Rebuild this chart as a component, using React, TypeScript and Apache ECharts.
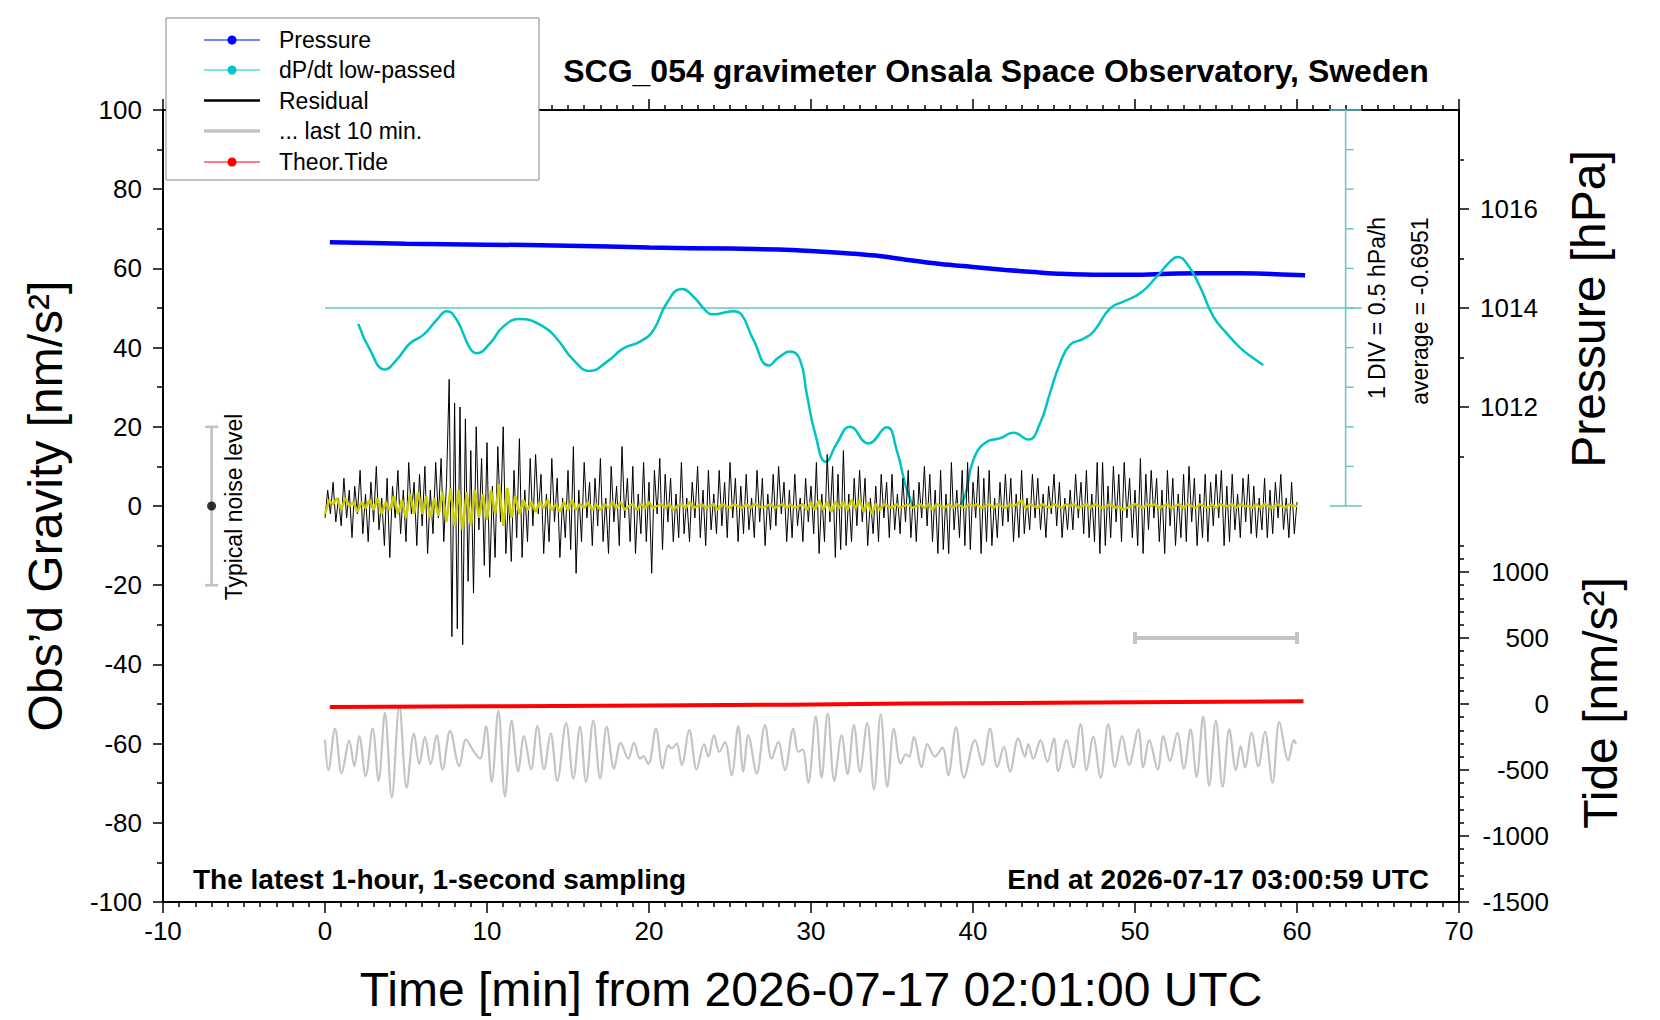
import { useEffect, useRef } from "react";
import * as echarts from "echarts";

const FONT = '"Liberation Sans", Arial, Helvetica, sans-serif';

const TITLE = "SCG_054 gravimeter Onsala Space Observatory, Sweden";
const X_NAME = "Time [min] from 2026-07-17 02:01:00 UTC";
const Y_NAME = "Obs’d Gravity [nm/s²]";
const PRESSURE_NAME = "Pressure [hPa]";
const TIDE_NAME = "Tide [nm/s²]";
const NOTE_LEFT = "The latest 1-hour, 1-second sampling";
const NOTE_RIGHT = "End at 2026-07-17 03:00:59 UTC";
const NOISE_TEXT = "Typical noise level";
const DIV_TEXT = "1 DIV = 0.5 hPa/h";
const AVG_TEXT = "average = -0.6951";

const PRESSURE_LABELS = [1012, 1014, 1016];
const PRESSURE_MINOR = [1011, 1013, 1015, 1017];
const TIDE_LABELS = [-1500, -1000, -500, 0, 500, 1000];
const TIDE_MINOR = [
  -1400, -1300, -1200, -1100, -900, -800, -700, -600, -400, -300, -200, -100,
  100, 200, 300, 400, 600, 700, 800, 900, 1100, 1200,
];
const DPDT_TICKS = [-2.5, -2, -1.5, -1, -0.5, 0, 0.5, 1, 1.5, 2, 2.5];
const DPDT_AXIS_X = 63;
const DPDT_ZERO_LINE = [
  [0, 0],
  [64, 0],
];

// pressure [hPa] vs minutes
const PRESSURE = [
  [0.3, 1015.33], [5, 1015.3], [10, 1015.28], [15, 1015.26], [20, 1015.22],
  [25, 1015.2], [28, 1015.18], [30, 1015.15], [32, 1015.11], [34, 1015.06],
  [36, 1014.97], [38, 1014.89], [40, 1014.83], [42, 1014.77], [44, 1014.72],
  [45.4, 1014.69], [48, 1014.67], [50, 1014.67], [52, 1014.69], [54, 1014.7],
  [56.5, 1014.7], [58, 1014.69], [60.5, 1014.66],
];

// dP/dt low-passed [hPa/h]
const DPDT = [
  [2.06, -0.2], [2.78, -0.53], [3.7, -0.775], [4.42, -0.655], [5.25, -0.445],
  [6.07, -0.34], [6.9, -0.15], [7.51, -0.04], [8.13, -0.15], [8.95, -0.51],
  [9.36, -0.57], [10.19, -0.445], [11.0, -0.235], [12.04, -0.14], [13.48, -0.235],
  [14.3, -0.385], [15.33, -0.655], [16.36, -0.795], [17.39, -0.68], [18.42, -0.51],
  [19.44, -0.425], [20.27, -0.28], [21.09, 0.06], [22.02, 0.24], [22.73, 0.145],
  [23.56, -0.045], [23.97, -0.08], [25.2, -0.04], [25.62, -0.065], [26.44, -0.4],
  [27.4, -0.725], [28.0, -0.625], [28.7, -0.55], [29.32, -0.655], [29.73, -1.075],
  [30.25, -1.58], [30.93, -1.94], [31.59, -1.71], [32.41, -1.5], [33.54, -1.71],
  [34.67, -1.505], [35.29, -1.795], [36.11, -2.405], [37.7, -3.0], [39.4, -2.425],
  [40.02, -1.92], [40.85, -1.69], [41.67, -1.645], [42.49, -1.575], [43.41, -1.66],
  [44.14, -1.455], [44.75, -1.075], [45.37, -0.7], [45.99, -0.465], [46.81, -0.39],
  [47.43, -0.3], [48.46, -0.005], [49.28, 0.08], [50.31, 0.185], [51.34, 0.395],
  [52.16, 0.585], [52.62, 0.645], [53.19, 0.565], [54.01, 0.27], [54.84, -0.11],
  [55.66, -0.32], [56.48, -0.5], [57.2, -0.62], [57.92, -0.72],
];

// theoretical tide [nm/s^2]
const TIDE = [
  [0.3, -23], [10, -17], [20, -11], [28.7, -5], [36, 3], [44.8, 10], [52.6, 16], [60.4, 20],
];

// residual [nm/s^2], one value every 10 s
const RESID_STEP = 1 / 6;
const RESIDUAL = [
  -3, 4, -2, 6, -4, 2, -5, 7, -3, 4, -8, 5, -2, 9, -7, 3, -9, 6,
  -4, 10, -6, 2, -10, 7, -13, 5, -3, 9, -7, 4, -9, 11, -2, 6, -10, 8,
  -5, 10, -12, 4, -7, 11, -3, 12, -9, 6, 32, -33, 26, -31, 25, -35, 22, -19,
  14, -22, 20, -6, 12, -15, 16, -18, 5, -13, 15, -4, 20, -12, 3, -14, 9, -8,
  17, -13, 4, -9, 12, -5, 13, -2, 8, -12, 3, -9, 12, -4, 7, -13, 2, -8,
  9, -11, 15, -17, 4, -9, 11, -3, 6, -10, 7, -5, 12, -9, 2, -12, 10, -4,
  5, -10, 15, -3, 7, -9, 10, -12, 3, -7, 11, -9, 6, -17, 9, -2, 12, -11,
  8, -4, 7, -9, 3, -8, 11, -7, 2, -9, 6, -3, 10, -8, 4, -10, 9, -6,
  3, -7, 9, -5, 6, -8, 11, -3, 7, -9, 5, -7, 8, -6, 2, -8, 9, -4,
  7, -10, 3, -6, 8, -5, 10, -2, 6, -9, 4, -8, 8, -5, 2, -9, 7, -4,
  5, -7, 11, -12, 3, -9, 13, -4, 10, -13, 8, -11, 14, -10, 3, -9, 7, -5,
  9, -4, 7, -10, 2, -7, 5, -9, 8, -3, 6, -8, 8, -6, 3, -7, 7, -4,
  9, -8, 4, -9, 6, -3, 10, -5, 8, -9, 4, -12, 9, -11, 3, -12, 11, -6,
  4, -8, 9, -10, 11, -11, 6, -3, 10, -12, 7, -9, 9, -10, 2, -8, 6, -5,
  8, -4, 7, -9, 3, -8, 9, -7, 2, -6, 8, -3, 7, -6, 3, -8, 5, -2,
  8, -5, 6, -8, 2, -6, 4, -6, 8, -3, 6, -7, 9, -8, 3, -9, 11, -12,
  11, -10, 5, -8, 10, -4, 8, -9, 11, -3, 7, -8, 4, -10, 12, -12, 8, -6,
  9, -3, 7, -9, 4, -12, 9, -5, 7, -10, 3, -8, 8, -9, 10, -4, 7, -10,
  3, -8, 8, -9, 6, -5, 8, -3, 9, -10, 5, -9, 8, -6, 3, -8, 7, -4,
  8, -7, 5, -8, 2, -6, 7, -8, 4, -7, 6, -3, 8, -6, 2, -8, 6, -7,
  1,
];

// low-passed residual, one value every 15 s
const SMOOTH_STEP = 0.25;
const SMOOTHED = [
  -2, 1.5, 0.5, 2, -1, 2, 0, 1, -1.5, 1, -0.5, 1.5, -1, 2, -2, 1,
  -1, 2.5, -2, 1.5, -3, 3, -2, 3.5, -2, 2.5, -3, 2, -2.5, 3.5, -4, 4.5,
  -5, 4, -6, 3.5, -5, 4, -3, 3, -3.5, 4, -2, 5.5, -5, 4.5, -3, 2.5,
  -2, 1.5, -1, 1, -1.5, 1, -0.5, 1.5, -1, 0.5, -1.5, 1, -1, 1.5, -1, 0.5,
  -0.5, 1, -1, 0.5, -1, 0.5, -0.5, 1, -0.5, 1, -1, 0, 0.5, -1, 0.5, -0.5,
  1, -0.5, 0, 0.5, -0.5, 0.5, -1, 0, 0.5, -0.5, 1, -0.5, 0, 0.5, -0.5, 0,
  0.5, -1, 0.5, 0, -0.5, 0.5, 0, -0.5, 0.5, -0.5, 0.5, 0, -0.5, 0, 0.5, -0.5,
  0, 0.5, -0.5, 0.5, -0.5, 0, 0.5, -1, 1, -1, 1.5, -1, 1, -1.5, 1, -0.5,
  1, -1, 1.5, -0.5, 1.5, -1.5, 1, -2, 0.5, -1, 0.5, 0, -0.5, 0.5, -0.5, 0,
  0.5, -0.5, 0, 0.5, -0.5, 0.5, -1, 0.5, 0, -0.5, 0.5, -0.5, 0.5, 0, -0.5, 0.5,
  0, 0.5, -0.5, 0, 0.5, -0.5, 0.5, 0, -0.5, 0.5, 0, 0.5, 1.5, -0.5, 0.5, 0,
  -0.5, 0.5, 0, -0.5, 0.5, 0, -0.5, 0.5, 0, 0.5, -0.5, 0, 0.5, -0.5, 0.5, 0,
  -0.5, 0, 0.5, -0.5, 0, -1, -0.5, 0, 0.5, 0, -0.5, 0.5, 0, 0.5, -0.5, 0,
  0.5, -0.5, 0, 0.5, -0.5, 0.5, 0, -0.5, 0.5, 0, -0.5, 0.5, -0.5, 0.5, 0, 0,
  0.5, -0.5, 0.5, 0, 0, -0.5, 0.5, -0.5, 0.5, 0, -0.5, 0.5, 0, -0.5, 0.5, 0,
  0,
];

// last 10 minutes of residual, stretched over 0-60 and shifted to -60
const LAST10 = [
  [0.0, -59.0], [0.21, -66.7], [0.62, -56.2], [1.03, -67.5], [1.5, -59.3],
  [1.81, -65.7], [2.12, -58.1], [2.51, -68.2], [2.94, -56.2], [3.31, -69.4],
  [3.7, -52.2], [4.12, -73.6], [4.59, -50.5], [5.04, -71.1], [5.49, -57.4],
  [5.82, -65.2], [6.17, -58.3], [6.52, -65.2], [6.89, -57.9], [7.26, -66.5],
  [7.72, -56.8], [8.29, -65.7], [8.7, -59.0], [9.16, -61.8], [9.57, -63.8],
  [9.94, -55.6], [10.29, -69.7], [10.7, -51.7], [11.11, -73.4], [11.52, -54.2],
  [11.93, -67.1], [12.28, -58.1], [12.72, -66.5], [13.11, -55.6], [13.52, -66.5],
  [13.93, -57.4], [14.34, -69.4], [14.88, -54.8], [15.33, -68.8], [15.74, -55.8],
  [16.11, -69.7], [16.56, -54.2], [16.98, -68.8], [17.39, -55.8], [17.84, -66.3],
  [18.25, -59.8], [18.72, -63.8], [19.07, -59.8], [19.45, -63.8], [19.65, -63.2],
  [19.96, -65.2], [20.43, -56.2], [20.84, -66.3], [21.19, -60.4], [21.4, -61.2],
  [21.71, -60.0], [22.02, -65.4], [22.49, -56.6], [22.94, -66.5], [23.4, -60.1],
  [23.66, -63.3], [24.01, -57.9], [24.34, -62.1], [24.69, -59.6], [25.1, -68.0],
  [25.51, -55.6], [25.82, -67.1], [26.13, -57.9], [26.65, -67.5], [27.16, -55.3],
  [27.57, -63.8], [27.98, -59.6], [28.39, -66.7], [28.91, -56.2], [29.21, -62.1],
  [29.48, -61.5], [29.83, -69.9], [30.3, -53.1], [30.65, -68.6], [31.03, -52.4],
  [31.44, -69.4], [31.89, -57.9], [32.26, -67.7], [32.65, -55.3], [33.02, -67.1],
  [33.47, -54.8], [33.89, -71.6], [34.3, -52.6], [34.71, -70.9], [35.12, -56.2],
  [35.53, -65.0], [35.86, -62.7], [36.07, -63.3], [36.35, -58.3], [36.83, -65.9],
  [37.18, -60.1], [37.65, -63.3], [38.12, -61.0], [38.47, -68.0], [38.95, -55.9],
  [39.44, -68.6], [40.12, -59.1], [40.59, -65.4], [41.05, -56.2], [41.5, -65.9],
  [41.91, -60.8], [42.28, -67.1], [42.79, -58.7], [43.21, -63.3], [43.41, -60.1],
  [43.72, -63.8], [44.17, -59.1], [44.59, -64.6], [45.0, -58.7], [45.26, -66.9],
  [45.78, -59.1], [46.19, -66.0], [46.64, -55.1], [47.01, -66.7], [47.42, -58.3],
  [47.88, -68.6], [48.35, -55.1], [48.76, -65.9], [49.21, -58.1], [49.63, -65.4],
  [50.2, -56.4], [50.51, -66.0], [50.88, -59.1], [51.4, -66.5], [51.75, -58.1],
  [52.16, -64.4], [52.61, -57.3], [53.02, -66.3], [53.43, -56.4], [53.8, -68.4],
  [54.21, -53.2], [54.58, -70.7], [54.99, -54.2], [55.41, -70.9], [55.82, -56.4],
  [56.23, -66.7], [56.52, -60.6], [56.79, -66.0], [57.2, -57.3], [57.61, -65.7],
  [58.02, -57.0], [58.49, -69.9], [58.91, -54.5], [59.46, -64.2], [59.81, -59.1],
  [59.94, -60.1],
];

// typical noise level bar: [minute, low, high]
const NOISE_BAR = [[-7, -20, 20]];
// time span of the last 10 minutes on the tide axis: [from, to, level]
const LAST10_SPAN = [[50, 60, 500]];

const LEGEND_ITEMS = [
  { label: "Pressure", color: "#0000ff", width: 1, dot: true },
  { label: "dP/dt low-passed", color: "#00c8c8", width: 1, dot: true },
  { label: "Residual", color: "#000000", width: 2.5, dot: false },
  { label: "... last 10 min.", color: "#c4c4c4", width: 3.5, dot: false },
  { label: "Theor.Tide", color: "#ff0000", width: 1, dot: true },
];

const CYAN = "#00c4c4";
const REF_CYAN = "#66c4c4";
const GRAY = "#c4c4c4";
const YELLOW = "#cccc00";

const tickStyle = { color: "#000", width: 1.5 };
const labelStyle = { color: "#000", fontSize: 26, fontFamily: FONT };
const frameLine = { show: true, onZero: false, lineStyle: { color: "#000", width: 2 } };
const noLine = { show: false, onZero: false };

const App = () => {
  const ref = useRef<HTMLDivElement | null>(null);

  useEffect(() => {
    if (!ref.current) return;
    const chart = echarts.init(ref.current, null, { renderer: "svg" });

    const legendRows = [40, 70, 100.5, 131, 162];
    const legendEls: any[] = [
      {
        type: "rect",
        shape: { x: 166, y: 18, width: 373, height: 162 },
        style: { fill: "#fff", stroke: "#888", lineWidth: 1 },
        z: 100,
      },
    ];
    LEGEND_ITEMS.forEach((it, i) => {
      const y = legendRows[i];
      legendEls.push({
        type: "line",
        shape: { x1: 204, y1: y, x2: 260, y2: y },
        style: { stroke: it.color, lineWidth: it.width },
        z: 101,
      });
      if (it.dot) {
        legendEls.push({
          type: "circle",
          shape: { cx: 232, cy: y, r: 4.5 },
          style: { fill: it.color },
          z: 102,
        });
      }
      legendEls.push({
        type: "text",
        x: 279,
        y,
        style: {
          text: it.label,
          fill: "#000",
          font: `23px ${FONT}`,
          align: "left",
          verticalAlign: "middle",
          textAlign: "left",
          textVerticalAlign: "middle",
        },
        z: 102,
      });
    });

    const textEl = (
      text: string,
      x: number,
      y: number,
      size: number,
      opts: { bold?: boolean; rotate?: boolean; align?: string } = {},
    ) => ({
      type: "text",
      x,
      y,
      rotation: opts.rotate ? Math.PI / 2 : 0,
      style: {
        text,
        fill: "#000",
        font: `${opts.bold ? "bold " : ""}${size}px ${FONT}`,
        align: opts.align || "center",
        verticalAlign: "middle",
        textAlign: opts.align || "center",
        textVerticalAlign: "middle",
      },
      z: 50,
    });

    const renderDpdtTick = (_p: any, api: any) => {
      const v = api.value(1);
      const p = api.coord([api.value(0), v]);
      const isEnd = v === DPDT_TICKS[0] || v === DPDT_TICKS[DPDT_TICKS.length - 1];
      return {
        type: "line",
        shape: { x1: isEnd ? p[0] - 16 : p[0], y1: p[1], x2: p[0] + (isEnd ? 16 : 8), y2: p[1] },
        style: { stroke: REF_CYAN, lineWidth: 1.5 },
      };
    };

    const renderNoiseBar = (_p: any, api: any) => {
      const lo = api.coord([api.value(0), api.value(1)]);
      const hi = api.coord([api.value(0), api.value(2)]);
      const st = { stroke: "#c0c0c0", lineWidth: 2.5 };
      return {
        type: "group",
        children: [
          { type: "line", shape: { x1: lo[0], y1: lo[1], x2: hi[0], y2: hi[1] }, style: st },
          { type: "line", shape: { x1: lo[0] - 6.5, y1: lo[1], x2: lo[0] + 6.5, y2: lo[1] }, style: st },
          { type: "line", shape: { x1: hi[0] - 6.5, y1: hi[1], x2: hi[0] + 6.5, y2: hi[1] }, style: st },
        ],
      };
    };

    const renderSpan = (_p: any, api: any) => {
      const a = api.coord([api.value(0), api.value(2)]);
      const b = api.coord([api.value(1), api.value(2)]);
      const st = { stroke: "#c4c4c4", lineWidth: 4 };
      return {
        type: "group",
        children: [
          { type: "line", shape: { x1: a[0], y1: a[1], x2: b[0], y2: b[1] }, style: st },
          { type: "line", shape: { x1: a[0], y1: a[1] - 6, x2: a[0], y2: a[1] + 6 }, style: st },
          { type: "line", shape: { x1: b[0], y1: b[1] - 6, x2: b[0], y2: b[1] + 6 }, style: st },
        ],
      };
    };

    const lineBase = { type: "line", showSymbol: false, silent: true };
    const main = { xAxisIndex: 0 };
    const upper = { xAxisIndex: 2, yAxisIndex: 6 };

    chart.setOption({
      animation: false,
      backgroundColor: "#fff",
      textStyle: { fontFamily: FONT },
      grid: [
        { left: 163, right: 201, top: 110, bottom: 118, containLabel: false, outerBoundsMode: "none" },
        // upper half, where the dP/dt scale lives
        { left: 163, right: 201, top: 110, bottom: 514, containLabel: false, outerBoundsMode: "none" },
      ],
      xAxis: [
        {
          type: "value",
          gridIndex: 0,
          position: "bottom",
          min: -10,
          max: 70,
          interval: 10,
          axisLine: frameLine,
          axisTick: { length: 11, lineStyle: tickStyle },
          minorTick: { show: true, splitNumber: 10, length: 5, lineStyle: tickStyle },
          splitLine: { show: false },
          axisLabel: { ...labelStyle, margin: 16, formatter: (v: number) => String(v) },
          name: X_NAME,
          nameLocation: "middle",
          nameGap: 63,
          nameTextStyle: { fontSize: 48, fontFamily: FONT, color: "#000" },
        },
        {
          type: "value",
          gridIndex: 0,
          position: "top",
          min: -10,
          max: 70,
          interval: 10,
          axisLine: frameLine,
          axisTick: { length: 11, lineStyle: tickStyle },
          minorTick: { show: true, splitNumber: 10, length: 5, lineStyle: tickStyle },
          splitLine: { show: false },
          axisLabel: { show: false },
        },
        {
          type: "value",
          gridIndex: 1,
          show: false,
          min: -10,
          max: 70,
        },
      ],
      yAxis: [
        {
          type: "value",
          gridIndex: 0,
          position: "left",
          min: -100,
          max: 100,
          interval: 20,
          axisLine: frameLine,
          axisTick: { show: true, length: 10, lineStyle: tickStyle },
          minorTick: { show: true, splitNumber: 2, length: 6, lineStyle: tickStyle },
          splitLine: { show: false },
          axisLabel: { ...labelStyle, margin: 21, formatter: (v: number) => String(v) },
          name: Y_NAME,
          nameLocation: "middle",
          nameRotate: 90,
          nameGap: 94,
          nameTextStyle: { fontSize: 48, fontFamily: FONT, color: "#000" },
        },
        {
          type: "value",
          gridIndex: 0,
          position: "right",
          min: 1002,
          max: 1018,
          axisLine: frameLine,
          axisTick: { show: true, length: 10, lineStyle: tickStyle, customValues: PRESSURE_LABELS },
          splitLine: { show: false },
          axisLabel: {
            ...labelStyle,
            margin: 21,
            customValues: PRESSURE_LABELS,
            formatter: (v: number) => String(v),
          },
        },
        {
          type: "value",
          gridIndex: 0,
          position: "right",
          min: 1002,
          max: 1018,
          axisLine: noLine,
          axisTick: { show: true, length: 5, lineStyle: tickStyle, customValues: PRESSURE_MINOR },
          splitLine: { show: false },
          axisLabel: { show: false },
        },
        {
          type: "value",
          gridIndex: 0,
          position: "right",
          min: -1500,
          max: 4500,
          axisLine: noLine,
          axisTick: { show: true, length: 10, lineStyle: tickStyle, customValues: TIDE_LABELS },
          splitLine: { show: false },
          axisLabel: {
            ...labelStyle,
            margin: 90,
            align: "right",
            customValues: TIDE_LABELS,
            formatter: (v: number) => String(v),
          },
        },
        {
          type: "value",
          gridIndex: 0,
          position: "right",
          min: -1500,
          max: 4500,
          axisLine: noLine,
          axisTick: { show: true, length: 5, lineStyle: tickStyle, customValues: TIDE_MINOR },
          splitLine: { show: false },
          axisLabel: { show: false },
        },
        {
          type: "value",
          gridIndex: 0,
          show: false,
          min: -100,
          max: 100,
        },
        {
          type: "value",
          gridIndex: 1,
          show: false,
          min: DPDT_TICKS[0],
          max: DPDT_TICKS[DPDT_TICKS.length - 1],
        },
      ],
      graphic: [
        ...legendEls,
        textEl(TITLE, 996, 71, 32, { bold: true }),
        textEl(NOTE_LEFT, 193, 879, 28, { bold: true, align: "left" }),
        textEl(NOTE_RIGHT, 1429, 879, 28, { bold: true, align: "right" }),
        textEl(PRESSURE_NAME, 1588, 309, 48, { rotate: true }),
        textEl(TIDE_NAME, 1600, 703, 48, { rotate: true }),
        textEl(NOISE_TEXT, 234, 507, 23, { rotate: true }),
        textEl(DIV_TEXT, 1377, 308, 23, { rotate: true }),
        textEl(AVG_TEXT, 1420, 311, 23, { rotate: true }),
      ],
      series: [
        {
          ...lineBase,
          ...main,
          name: "... last 10 min.",
          yAxisIndex: 0,
          data: LAST10,
          smooth: 0.35,
          lineStyle: { color: GRAY, width: 2.2 },
        },
        {
          ...lineBase,
          ...main,
          name: "Theor.Tide",
          yAxisIndex: 3,
          data: TIDE,
          lineStyle: { color: "#ff0000", width: 4 },
        },
        {
          ...lineBase,
          ...main,
          name: "Pressure",
          yAxisIndex: 1,
          data: PRESSURE,
          smooth: 0.3,
          lineStyle: { color: "#0000ff", width: 4.5 },
        },
        {
          ...lineBase,
          ...upper,
          data: DPDT_ZERO_LINE,
          lineStyle: { color: REF_CYAN, width: 1.5 },
        },
        {
          ...lineBase,
          ...upper,
          clip: false,
          data: [
            [DPDT_AXIS_X, DPDT_TICKS[0]],
            [DPDT_AXIS_X, DPDT_TICKS[DPDT_TICKS.length - 1]],
          ],
          lineStyle: { color: REF_CYAN, width: 1.5 },
        },
        {
          type: "custom",
          silent: true,
          ...upper,
          data: DPDT_TICKS.map((v) => [DPDT_AXIS_X, v]),
          encode: { x: 0, y: 1 },
          renderItem: renderDpdtTick,
        },
        {
          ...lineBase,
          ...upper,
          name: "dP/dt low-passed",
          data: DPDT,
          smooth: 0.5,
          clip: true,
          lineStyle: { color: CYAN, width: 2.5 },
        },
        {
          ...lineBase,
          ...main,
          name: "Residual",
          yAxisIndex: 0,
          data: RESIDUAL.map((v, i) => [i * RESID_STEP, v]),
          lineStyle: { color: "#000", width: 1 },
        },
        {
          ...lineBase,
          ...main,
          name: "Residual low-passed",
          yAxisIndex: 0,
          data: SMOOTHED.map((v, i) => [i * SMOOTH_STEP, v]),
          lineStyle: { color: YELLOW, width: 2.5 },
        },
        {
          type: "custom",
          silent: true,
          ...main,
          yAxisIndex: 0,
          data: NOISE_BAR,
          encode: { x: 0, y: [1, 2] },
          renderItem: renderNoiseBar,
        },
        {
          type: "scatter",
          silent: true,
          ...main,
          yAxisIndex: 0,
          data: NOISE_BAR.map((d) => [d[0], (d[1] + d[2]) / 2]),
          symbolSize: 9,
          itemStyle: { color: "#000" },
        },
        {
          type: "custom",
          silent: true,
          ...main,
          yAxisIndex: 3,
          data: LAST10_SPAN,
          encode: { x: [0, 1], y: 2 },
          renderItem: renderSpan,
        },
      ],
    });

    return () => chart.dispose();
  }, []);

  return (
    <div
      ref={ref}
      style={{ position: "fixed", left: 0, top: 0, width: 1660, height: 1020, background: "#fff" }}
    />
  );
};

export default App;
